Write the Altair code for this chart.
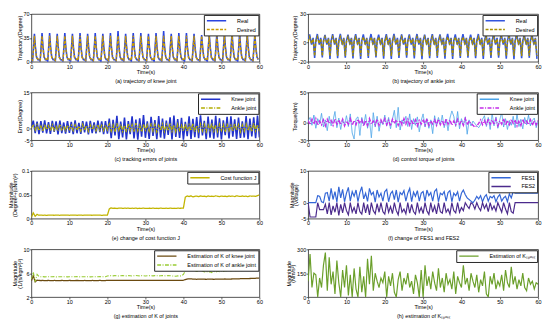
import altair as alt
import numpy as np
import pandas as pd

FONT = "Liberation Sans"
FS = 5.6
H = 49
WL = 234
WR = 236
TIME_TICKS = [0, 10, 20, 30, 40, 50, 60]

# ---------------- (a) knee joint trajectory (one gait cycle every 2 s) -------------
CYCLE_S = 2.0
knee_des_phase = [0.0, 0.3, 0.55, 0.8, 1.05, 1.35, 1.7]
knee_des_cycle = [4, 2, 18, 38, 20, 6, 4]
knee_real_phase = [0.0, 0.3, 0.55, 1.05, 1.35, 1.7]
knee_real_cycle = [3, 0.5, 21, 22, 7, 3]
knee_peak_phase = 0.8
knee_real_peak = [41, 42, 42, 41, 42, 41, 42, 41, 42, 41, 42, 45, 41, 42, 42,
                  41, 42, 45, 41, 42, 42, 41, 39, 40, 41, 42, 43, 42, 41, 40]

# ---------------- (b) ankle joint trajectory ----------------------------------------
ankle_des_phase = [0.0, 0.4, 0.9, 1.3, 1.7]
ankle_des_cycle = [1, 6, -1, 4, -14]
ankle_real_phase = [0.0, 0.9, 1.3]
ankle_real_cycle = [2, -2, 5]
ankle_peak_phase = 0.4
ankle_dip_phase = 1.7
ankle_real_peak = [8.5, 9, 8, 8.8, 9.2, 8.4, 8.9, 8.6, 9, 8.3, 8.8, 9.1, 8.5, 8.7, 9,
                   8.4, 8.9, 8.6, 9.2, 8.5, 8.8, 8.3, 9, 8.6, 8.9, 8.4, 8.7, 9.1, 8.5, 8.8]
ankle_real_dip = [-16, -15.5, -17, -16.2, -15.8, -16.5, -17.2, -16, -15.6, -16.8,
                  -17, -16.1, -15.7, -16.6, -17.3, -16.2, -15.9, -16.7, -17.1, -16,
                  -15.8, -16.4, -17.2, -16.1, -15.7, -16.9, -17.4, -16.3, -15.9, -17]

# ---------------- (c) tracking errors (sampled every 0.5 s) --------------------------
knee_err = [0.5, 3.2, -2.0, 2.8, -2.5, 3.0, -1.8, 3.3, -2.2, 2.6,
            -2.4, 3.1, -1.5, 2.9, -2.6, 3.2, -2.0, 2.4, -2.3, 3.0,
            -1.9, 2.7, -2.5, 3.3, -2.1, 2.2, -2.4, 3.0, -1.7, 2.8,
            -2.6, 3.1, -2.0, 2.5, -2.2, 3.2, -1.6, 2.9, -2.5, 3.0,
            -2.3,
            4.0, -4.2, 3.5, -3.0, 5.2, -4.6, 2.8, -3.8, 4.5, -4.7,
            3.0, -2.5, 5.0, -4.3, 3.6, -4.8, 4.2, -3.5, 5.5, -4.0,
            2.9, -4.5, 4.8, -3.2, 3.4, -4.6, 5.1, -3.9, 4.0, -4.4,
            3.2, -2.8, 4.6, -4.7, 5.3, -3.6, 3.8, -4.1, 4.4, -4.8,
            2.7, -3.3, 5.0, -4.5, 3.9, -3.7, 4.7, -4.2, 5.4, -3.0,
            3.1, -4.6, 4.9, -4.0, 3.6, -4.4, 5.2, -3.8, 4.1, -4.7,
            3.3, -2.9, 4.8, -4.3, 5.0, -3.5, 3.7, -4.5, 4.5, -4.1,
            2.9, -3.9, 5.1, -4.6, 4.0, -3.4, 4.6, -4.2, 5.3, -3.8]
ankle_err = [0.3, 1.2, -0.8, 1.5, -1.0, 0.9, -1.3, 1.6, -0.6, 1.1,
             -1.2, 1.4, -0.9, 0.8, -1.1, 1.7, -0.7, 1.0, -1.4, 1.3,
             -0.5, 1.2, -1.0, 1.5, -0.8, 0.9, -1.2, 1.6, -0.9, 1.1,
             -1.3, 1.4, -0.6, 1.0, -1.1, 1.5, -0.8, 1.2, -1.0, 1.3,
             -0.7,
             1.8, -1.2, 1.4, -1.5, 2.0, -0.9, 1.6, -1.3, 1.2, -1.6,
             1.9, -1.0, 1.5, -1.4, 2.1, -1.1, 1.3, -1.5, 1.7, -0.8,
             1.4, -1.3, 2.0, -1.2, 1.6, -1.6, 1.2, -1.0, 1.8, -1.4,
             1.5, -1.1, 2.2, -1.3, 1.4, -1.5, 1.7, -0.9, 1.3, -1.2,
             1.9, -1.4, 1.5, -1.0, 2.0, -1.6, 1.2, -1.3, 1.8, -1.1,
             1.6, -1.5, 1.4, -0.8, 2.1, -1.2, 1.3, -1.4, 1.7, -1.0,
             1.5, -1.6, 1.9, -1.1, 1.2, -1.3, 2.0, -0.9, 1.6, -1.5,
             1.4, -1.2, 1.8, -1.0, 1.3, -1.4, 2.2, -1.1, 1.5, -1.3]

# ---------------- (d) control torque ------------------------------------------------
knee_torque = [2, 8, -5, 12, -10, 6, -3, 15, -8, 4,
               -14, 10, -6, 3, 18, -9, 7, -12, 5, -4,
               11, -7, 14, -18, -28, 6, 9, -22, 8, -5,
               13, -10, 4, -26, 16, -8, 10, -15, 3, -4,
               12, -6, 8, -11, 5, 20, -9, 25, -13, 4,
               -3, 10, -7, 14, -12, 6, -5, 9, -16, 3,
               14, -8, 6, -10, 4, -19, 11, -6, 8, -4,
               12, -9, 5, -14, 7, 19, 10, -7, 18, -11,
               6, -5, 9, -20, 4, -6, 2, -2, -6, -9,
               -4, 5, 11, -7, 8, -12, 15, -6, 9, -10,
               4, 17, -8, 6, -12, 3, -5, 10, -9, 13,
               -7, 5, -11, 8, -4, 12, -6, 3, 7, -9, 2]
ankle_torque = [3, -4, 5, -3, 6, -5, 2, -4, 4, -6,
                5, -2, 3, -5, 6, -3, 4, -4, 5, -6,
                2, -3, 6, -5, 3, -4, 5, -2, 4, -6,
                3, -5, 6, -3, 2, -4, 5, -5, 4, -3,
                6, -4, 3, -6, 5, -2, 4, -5, 3, -4,
                6, -3, 5, -5, 2, -4, 4, -6, 3, -3,
                5, -4, 6, -5, 2, -3, 4, -5, 5, -4,
                3, -6, 6, -3, 4, -5, 2, -4, 5, -3,
                3, -5, 6, -4, 2, -2, -5, -8, -6, -2,
                4, -4, 3, -5, 6, -3, 4, -4, 5, -6,
                2, -3, 6, -5, 3, -4, 5, -2, 4, -6,
                3, -5, 5, -3, 2, -4, 4, -5, 3, -4, 3]

# ---------------- (e) cost function J ----------------------------------------------
cost_j = [0.003, 0.012, 0.005, 0.009, 0.007, 0.0075, 0.007, 0.0072, 0.0068, 0.0074,
          0.0071, 0.0073, 0.0070, 0.0075, 0.0072, 0.0069, 0.0074, 0.0071, 0.0073, 0.0072,
          0.0070, 0.0074, 0.0071, 0.0073, 0.0069, 0.0075, 0.0072, 0.0070, 0.0073, 0.0071,
          0.0074, 0.0072, 0.0070, 0.0073, 0.0071, 0.0074, 0.0072, 0.0069, 0.0073, 0.0071,
          0.0072,
          0.0205, 0.0225, 0.0215, 0.022, 0.0212, 0.0218, 0.0222, 0.0214, 0.0219, 0.0216,
          0.0221, 0.0213, 0.0218, 0.0215, 0.022, 0.0212, 0.0217, 0.0214, 0.0219, 0.0216,
          0.0213, 0.0218, 0.0215, 0.0221, 0.0214, 0.0217, 0.0212, 0.0219, 0.0216, 0.0213,
          0.0218, 0.0215, 0.022, 0.0214, 0.0217, 0.0213, 0.0219, 0.0216, 0.0218, 0.0221,
          0.045, 0.0475, 0.0462, 0.0478, 0.0455, 0.0468, 0.0472, 0.046, 0.0476, 0.0465,
          0.047, 0.0458, 0.0474, 0.0466, 0.0471, 0.0463, 0.0477, 0.0468, 0.0461, 0.0473,
          0.0466, 0.047, 0.0459, 0.0475, 0.0467, 0.0472, 0.0462, 0.0478, 0.0469, 0.0464,
          0.0474, 0.0466, 0.0471, 0.046, 0.0476, 0.0468, 0.0473, 0.0465, 0.0482, 0.0495]

# ---------------- (f) FES1 and FES2 ------------------------------------------------
fes1 = [0, 0, 0, 0, 0, 2.2, 2.0, 0.3, 0, 3.0,
        3.2, 0.5, 4.5, 1.0, 3.5, 0.2, 5.0, 1.5, 4.2, 0.3,
        3.0, 4.8, 0.5, 3.5, 2.0, 4.0, 0.3, 3.2, 5.0, 1.2,
        3.0, 0.4, 4.5, 2.5, 3.3, 0.2, 4.0, 1.8, 3.0, 0.5,
        3.5, 4.2, 0.3, 2.8, 3.6, 1.0, 4.0, 0.2, 3.2, 2.5,
        3.8, 0.5, 3.0, 4.5, 0.3, 3.3, 2.0, 3.8, 0.5, 3.0,
        3.5, 0.4, 4.0, 2.2, 3.2, 0.5, 3.6, 4.3, 0.3, 3.0,
        2.5, 3.5, 0.5, 3.2, 3.8, 0.3, 3.0, 2.2, 3.4, 0.5,
        3.0, 4.0, 2.5, 1.5, 1.0, 0.5, 0.0, 0.8, 2.0, 1.2,
        2.2, 0.3, 1.8, 2.5, 0.5, 2.0, 1.5, 2.2, 0.3, 1.8,
        2.6, 0.5, 1.5, 2.0, 0.3, 2.8, 1.5, 3.5, 3.0, 3.0,
        3.0, 3.0, 3.0, 3.0, 3.0, 3.0, 3.0, 3.0, 3.0, 3.0, 3.0]
fes2 = [0, -4.5, -4.5, -4.5, -4.5, 0, -2.2, -2.2, -2.2, -0.5,
        -3.5, 0, -3.8, -1.0, -3.0, 0, -4.0, -0.5, -3.2, 0,
        -2.5, -3.8, 0, -3.0, -1.5, -3.5, 0, -2.8, -3.6, 0,
        -3.2, -0.5, -3.8, 0, -2.5, -3.5, -0.3, -3.0, 0, -2.8,
        -3.6, 0, -3.0, -1.2, -3.4, 0, -2.5, -3.8, 0, -3.0,
        -2.0, -3.5, 0, -3.3, -0.5, -2.8, -3.6, 0, -3.0, -1.5,
        -3.4, 0, -2.6, -3.7, 0, -3.0, -1.0, -3.5, 0, -2.8,
        -3.3, 0, -3.0, -2.0, -3.6, 0, -2.5, -3.2, 0, -3.0,
        -1.5, -2.5, 0, -1.0, -1.8, 0, -0.5, -2.0, 0, -1.5,
        -2.5, 0, -1.8, -0.5, -2.8, 0, -2.2, -1.0, -2.6, 0,
        -1.5, -3.0, 0, -2.0, -3.5, 0, -2.8, -3.3, 0, 0,
        0, 0, 0, 0, 0, 0, 0, 0, 0, 0, 0]

# ---------------- (g) estimation of K ----------------------------------------------
k_knee = [4.72, 5.6, 4.55, 4.82, 4.78, 4.77, 4.78, 4.76, 4.77, 4.78,
          4.77, 4.76, 4.78, 4.77, 4.77, 4.76, 4.78, 4.77, 4.76, 4.77,
          4.78, 4.77, 4.76, 4.77, 4.78, 4.77, 4.77, 4.76, 4.78, 4.77,
          4.77, 4.76, 4.78, 4.77, 4.76, 4.77, 4.78, 4.77, 4.76, 4.77,
          4.80, 4.81, 4.80, 4.79, 4.80, 4.81, 4.80, 4.79, 4.80, 4.81,
          4.80, 4.79, 4.80, 4.81, 4.80, 4.79, 4.80, 4.81, 4.80, 4.79,
          4.80, 4.81, 4.80, 4.79, 4.80, 4.81, 4.80, 4.79, 4.80, 4.81,
          4.80, 4.79, 4.80, 4.81, 4.80, 4.79, 4.80, 4.81, 4.80, 4.79,
          4.82, 4.92, 5.02, 5.06, 5.04, 5.02, 5.00, 4.98, 5.00, 5.02,
          5.01, 4.99, 4.98, 5.00, 5.01, 4.99, 4.98, 5.00, 5.02, 5.01,
          5.00, 5.02, 5.03, 5.01, 5.00, 5.02, 5.04, 5.03, 5.05, 5.06,
          5.07, 5.08, 5.08, 5.09, 5.10, 5.11, 5.12, 5.13, 5.15, 5.17, 5.20]
k_ankle = [5.0, 6.2, 4.6, 5.8, 5.45, 5.4, 5.42, 5.38, 5.4, 5.41,
           5.39, 5.4, 5.42, 5.38, 5.4, 5.41, 5.39, 5.4, 5.42, 5.38,
           5.4, 5.41, 5.39, 5.4, 5.42, 5.38, 5.4, 5.41, 5.39, 5.4,
           5.42, 5.38, 5.4, 5.41, 5.39, 5.4, 5.42, 5.38, 5.4, 5.41,
           5.52, 5.6, 5.58, 5.55, 5.6, 5.57, 5.54, 5.58, 5.6, 5.56,
           5.55, 5.59, 5.57, 5.54, 5.58, 5.6, 5.56, 5.55, 5.59, 5.57,
           5.54, 5.58, 5.6, 5.56, 5.55, 5.59, 5.57, 5.54, 5.58, 5.6,
           5.56, 5.55, 5.59, 5.57, 5.54, 5.52, 5.5, 5.55, 5.53, 5.56,
           5.8, 6.4, 6.7, 6.6, 6.5, 6.55, 6.45, 6.3, 6.4, 6.5,
           6.35, 6.2, 6.3, 6.15, 6.25, 6.1, 6.3, 6.2, 6.35, 6.25,
           6.4, 6.3, 6.45, 6.35, 6.5, 6.4, 6.55, 6.45, 6.4, 6.5,
           6.45, 6.4, 6.5, 6.6, 6.55, 6.5, 6.6, 6.7, 6.8, 7.0, 7.3]

# ---------------- (h) estimation of K_spont ----------------------------------------
k_spont = [100, 270, 60, 150, 140, 0, 120, 60, 200, 280,
           40, 250, 80, 160, 20, 230, 90, 0, 170, 60,
           200, 10, 140, 0, 180, 50, 0, 190, 30, 130,
           0, 240, 80, 260, 40, 150, 100, 60, 120, 90,
           160, 0, 130, 70, 150, 30, 0, 110, 160, 40,
           120, 80, 150, 60, 100, 20, 140, 90, 0, 170,
           0, 200, 70, 130, 50, 160, 90, 40, 180, 60,
           120, 30, 150, 80, 110, 50, 160, 20, 130, 90,
           60, 200, 80, 120, 40, 150, 100, 60, 140, 30,
           110, 70, 160, 20, 0, 130, 80, 150, 50, 100,
           70, 140, 40, 170, 90, 60, 190, 80, 130, 50,
           110, 70, 150, 60, 40, 120, 80, 100, 50, 90, 80]


def sampled(values, name):
    return pd.DataFrame({"t": np.linspace(0, 60, len(values)), "v": values, "series": name})


def cyclic(phases, cycle_vals, extra, n_cycles, name):
    rows = []
    for k in range(n_cycles):
        t0 = k * CYCLE_S
        pts = list(zip(phases, cycle_vals))
        for ph, arr in extra:
            pts.append((ph, arr[k]))
        for ph, v in sorted(pts):
            rows.append((t0 + ph, v))
    df = pd.DataFrame(rows, columns=["t", "v"])
    df["series"] = name
    return df


n_cyc = len(knee_real_peak)
df_a_real = cyclic(knee_real_phase, knee_real_cycle, [(knee_peak_phase, knee_real_peak)], n_cyc, "Real")
df_a_des = cyclic(knee_des_phase, knee_des_cycle, [], n_cyc, "Desired")
df_b_real = cyclic(ankle_real_phase, ankle_real_cycle,
                   [(ankle_peak_phase, ankle_real_peak), (ankle_dip_phase, ankle_real_dip)], n_cyc, "Real")
df_b_des = cyclic(ankle_des_phase, ankle_des_cycle, [], n_cyc, "Desired")

SOLID = [1, 0]
DASH = [3, 1.5]
DASHDOT = [4, 1.5, 1, 1.5]


def panel(frames, names, colors, dashes, widths, ydom, yticks, ytitle, caption, width):
    leg = alt.Legend(orient="top-right", title=None, offset=1, padding=2, fillColor="white",
                     strokeColor="#222", symbolType="M-3.3,0H3.3", symbolSize=36,
                     symbolOffset=7, symbolStrokeWidth=1.5, labelFontSize=FS, labelFont=FONT,
                     rowPadding=1, labelOffset=17, cornerRadius=0)
    color = alt.Color("series:N", scale=alt.Scale(domain=names, range=colors), legend=leg)
    dash = alt.StrokeDash("series:N", scale=alt.Scale(domain=names, range=dashes), legend=leg)
    x = alt.X("t:Q", scale=alt.Scale(domain=[0, 60], nice=False, zero=False),
              axis=alt.Axis(values=TIME_TICKS, title=["Time(s)", caption], labelFlush=False,
                            labelOverlap=False, titlePadding=0, titleLineHeight=9.2))
    y = alt.Y("v:Q", scale=alt.Scale(domain=ydom, nice=False, zero=False),
              axis=alt.Axis(values=yticks, title=ytitle, labelFlush=False, labelOverlap=False,
                            labelExpr="datum.value + ''", titlePadding=0.8, titleLineHeight=4.6))
    layers = [alt.Chart(df).mark_line(strokeWidth=w, clip=True).encode(x=x, y=y, color=color, strokeDash=dash)
              for df, w in zip(frames, widths)]
    return alt.layer(*layers).properties(width=width, height=H)


pa = panel([df_a_real, df_a_des], ["Real", "Desired"], ["#2a44e0", "#c89a00"], [SOLID, DASH], [1.6, 1.4],
           [0, 70], [0, 35, 70], "Trajectory(Degree)", "(a) trajectory of knee joint", WL)
pb = panel([df_b_real, df_b_des], ["Real", "Desired"], ["#3355dd", "#a89000"], [SOLID, DASH], [1.6, 1.4],
           [-20, 30], [-20, 0, 30], "Trajectory(Degree)", "(b) trajectory of ankle joint", WR)
pc = panel([sampled(knee_err, "Knee joint"), sampled(ankle_err, "Ankle joint")],
           ["Knee joint", "Ankle joint"], ["#2233cc", "#b3ad00"], [SOLID, DASHDOT], [1.6, 1.3],
           [-5, 15], [-5, 0, 15], "Error(Degree)", "(c) tracking errors of joints", WL)
pd_ = panel([sampled(knee_torque, "Knee joint"), sampled(ankle_torque, "Ankle joint")],
            ["Knee joint", "Ankle joint"], ["#4aa3e8", "#c42ee8"], [SOLID, DASHDOT], [0.9, 1.5],
            [-30, 50], [-30, 0, 50], "Torque(Nm)", "(d) control torque of joints", WR)
pe = panel([sampled(cost_j, "Cost function J")], ["Cost function J"], ["#c2b400"], [SOLID], [1.3],
           [0, 0.1], [0, 0.05, 0.1], ["Magnitude", "(Degree\u00b2+(uNm)\u00b2)"],
           "(e) change of cost function J", WL)
pf = panel([sampled(fes1, "FES1"), sampled(fes2, "FES2")], ["FES1", "FES2"], ["#3366d6", "#4b2a8c"],
           [SOLID, SOLID], [1.2, 1.2], [-5, 10], [-5, 0, 10], ["Magnitude", "(Voltage)"],
           "(f) change of FES1 and FES2", WR)
pg = panel([sampled(k_knee, "Estimation of K of knee joint"), sampled(k_ankle, "Estimation of K of ankle joint")],
           ["Estimation of K of knee joint", "Estimation of K of ankle joint"], ["#6b4a10", "#99cc33"],
           [SOLID, DASHDOT], [1.3, 1.1], [2, 10], [2, 6, 10], ["Magnitude", "(1/(s/kgm\u00b2)\u00b2)"],
           "(g) estimation of K of joints", WL)
KS = "Estimation of K\u209b\u209a\u2092\u2099\u209c"
ph = panel([sampled(k_spont, KS)], [KS], ["#6a9f2a"], [SOLID], [1.2],
           [0, 300], [0, 150, 300], ["Magnitude", "(Nm/s\u00b2)"],
           "(h) estimation of K\u209b\u209a\u2092\u2099\u209c", WR)

chart = alt.concat(pa, pb, pc, pd_, pe, pf, pg, ph, columns=2,
                   spacing={"row": 31.5, "column": 50}, bounds="flush", align="each")
chart = chart.resolve_scale(color="independent", strokeDash="independent").resolve_legend(
    color="independent", strokeDash="independent")
chart = chart.properties(padding={"left": -1, "top": -1, "right": 0, "bottom": 0})
chart = chart.configure(font=FONT).configure_view(stroke="#222", strokeWidth=0.8).configure_axis(
    grid=False, domain=False, tickSize=2, tickColor="#222", tickWidth=0.7,
    labelFont=FONT, labelFontSize=FS, labelColor="#000", labelPadding=0.5,
    titleFont=FONT, titleFontSize=FS, titleFontWeight="normal", titleColor="#000")

chart.save("out.html", embed_options={"renderer": "svg", "actions": False})
